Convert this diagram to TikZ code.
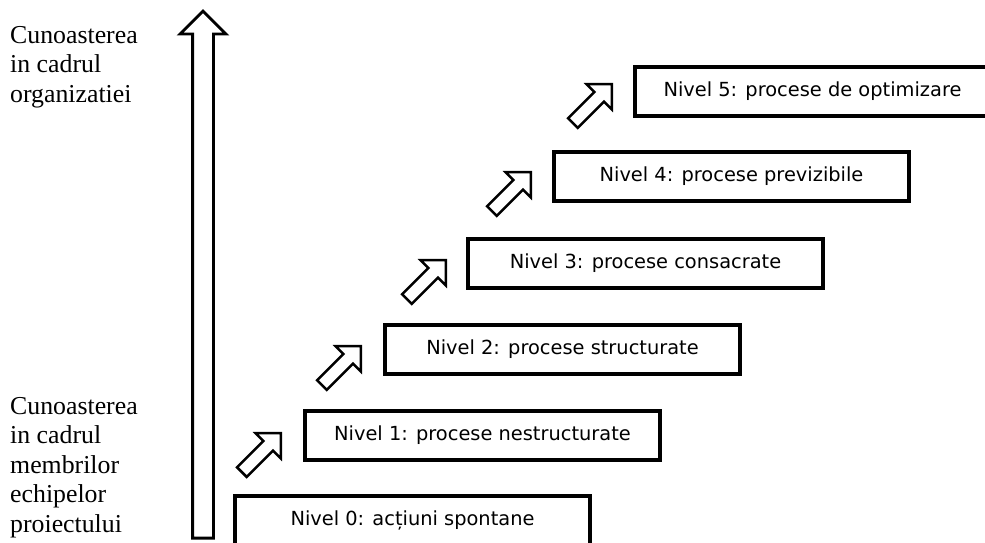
\documentclass[tikz,border=0pt]{standalone}
\usepackage{fontspec}
\setmainfont{Liberation Serif}
\newfontfamily\boxfont{DejaVu Sans}
\usepackage{tikz}
\usetikzlibrary{shapes.arrows,calc,positioning}
\tikzset{level/.style={draw, line width=4pt, minimum width=355pt, minimum height=49pt, inner sep=0pt, font=\boxfont\fontsize{19.4}{23}\selectfont}}
\tikzset{stepup/.style={draw, single arrow, line width=2.5pt, rotate=45, inner sep=5.5pt, single arrow head extend=11pt, minimum height=55pt, anchor=tail}}
\tikzset{bigup/.style={draw, single arrow, line width=2.8pt, rotate=90, inner sep=9pt, single arrow head extend=12.5pt, minimum height=527pt, anchor=tail}}
\tikzset{side/.style={align=left, inner sep=0pt, anchor=north west, font=\fontsize{25.8}{29.5}\selectfont}}

\begin{document}
\begin{tikzpicture}[x=1pt,y=1pt]
  \clip (0,0) rectangle (985,542);
  % the long arrow on the left
  \node[bigup] (growth) at (203,2.5) {};
  \node[side] (orgtxt) at (10,516) {Cunoasterea\\in cadrul\\organizatiei};
  \node[side] (teamtxt) at (10,145) {Cunoasterea\\in cadrul\\membrilor\\echipelor\\proiectului};

  % the six levels, one step up and right each
  \node[level] (lvl0) at (412.5,21.5) {Nivel 0: acțiuni spontane};
  \node[level] (lvl1) at (482.5,106.5) {Nivel 1: procese nestructurate};
  \node[level] (lvl2) at (562.5,192.5) {Nivel 2: procese structurate};
  \node[level] (lvl3) at (645.5,278.5) {Nivel 3: procese consacrate};
  \node[level] (lvl4) at (731.5,365.5) {Nivel 4: procese previzibile};
  \node[level] (lvl5) at (812.5,450.5) {Nivel 5: procese de optimizare};

  % small arrows between the steps
  \node[stepup] (up1) at ($(lvl1.north west)+(-62,-64)$) {};
  \node[stepup] (up2) at ($(lvl2.north west)+(-62,-63)$) {};
  \node[stepup] (up3) at ($(lvl3.north west)+(-60,-63)$) {};
  \node[stepup] (up4) at ($(lvl4.north west)+(-61,-62)$) {};
  \node[stepup] (up5) at ($(lvl5.north west)+(-61,-59)$) {};
\end{tikzpicture}
\end{document}
